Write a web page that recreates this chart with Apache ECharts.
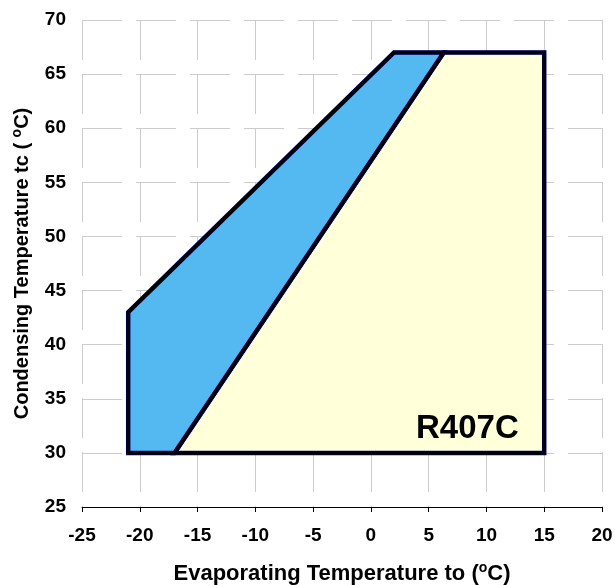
<!DOCTYPE html>
<html><head><meta charset="utf-8">
<script src="https://cdn.jsdelivr.net/npm/echarts@6/dist/echarts.min.js"></script>
<style>html,body{margin:0;padding:0;background:#fff}#c{width:615px;height:585px}</style>
</head><body><div id="c"></div>
<script>
const xTicks = [-25,-20,-15,-10,-5,0,5,10,15,20];
const yTicks = [25,30,35,40,45,50,55,60,65,70];
const blueX = [-21, -21, 2, 6.3, -17];
const blueY = [30, 43, 67, 67, 30];
const yellowX = [-17, 6.3, 15, 15];
const yellowY = [30, 67, 67, 30];
const outlineX = [-21, -21, 2, 15, 15, -21];
const outlineY = [30, 43, 67, 67, 30, 30];
const innerX = [-17, 6.3];
const innerY = [30, 67];
const label = 'R407C';

function pts(xs, ys){ return xs.map((x,i)=>[x, ys[i]]); }
function polySeries(xs, ys, fill, border){
  const d = pts(xs, ys);
  return {
    type:'custom', coordinateSystem:'cartesian2d', data:[0], silent:true,
    renderItem:function(params, api){
      return {type:'polygon', shape:{points:d.map(p=>api.coord(p))},
        style:{fill:fill, stroke:border, lineWidth:4.5}};
    }, z:2
  };
}
const chart = echarts.init(document.getElementById('c'));
const font = 'Arial, "Liberation Sans", sans-serif';
const rich = {s:{fontSize:14, fontWeight:'bold', verticalAlign:'top', padding:[0,0,11,0], fontFamily:font, color:'#000'}};
chart.setOption({
  animation:false,
  grid:{left:82, right:13, top:20, bottom:78, containLabel:false, outerBoundsMode:'none'},
  xAxis:{type:'value', min:-25, max:20, interval:5,
    axisLine:{show:true, onZero:false, lineStyle:{color:'#000', width:1}},
    axisTick:{show:true, length:5, lineStyle:{color:'#000'}},
    axisLabel:{color:'#000', fontWeight:'bold', fontSize:19, fontFamily:font, margin:19,
      formatter:v=>xTicks.includes(v)?String(v):''},
    splitLine:{show:true, lineStyle:{color:'#cccccc', width:1, type:[40,14]}},
    name:'Evaporating Temperature to ({s|o}C)', nameLocation:'middle', nameGap:54,
    nameTextStyle:{color:'#000', fontWeight:'bold', fontSize:22, fontFamily:font, rich:rich}
  },
  yAxis:{type:'value', min:25, max:70, interval:5,
    axisLine:{show:false}, axisTick:{show:false},
    axisLabel:{color:'#000', fontWeight:'bold', fontSize:19, fontFamily:font, margin:16,
      formatter:v=>yTicks.includes(v)?String(v):''},
    splitLine:{show:true, lineStyle:{color:'#cccccc', width:1, type:[40,14]}},
    name:'Condensing Temperature tc ( {s|o}C)', nameLocation:'middle', nameGap:47,
    nameTextStyle:{color:'#000', fontWeight:'bold', fontSize:20, fontFamily:font, rich:rich}
  },
  series:[
    polySeries(yellowX, yellowY, '#FFFFDA', '#000080'),
    polySeries(blueX, blueY, '#55B9F1', '#000080'),
    {type:'line', data:pts(outlineX, outlineY), symbol:'none', silent:true, z:5,
      lineStyle:{color:'#000', width:3.5, join:'miter'}},
    {type:'line', data:pts(innerX, innerY), symbol:'none', silent:true, z:5,
      lineStyle:{color:'#000', width:3.5}}
  ],
  graphic:[{type:'text', left:416, top:412, z:10,
    style:{text:label, font:'bold 33px Arial, "Liberation Sans", sans-serif', fill:'#000'}}]
});
</script></body></html>
